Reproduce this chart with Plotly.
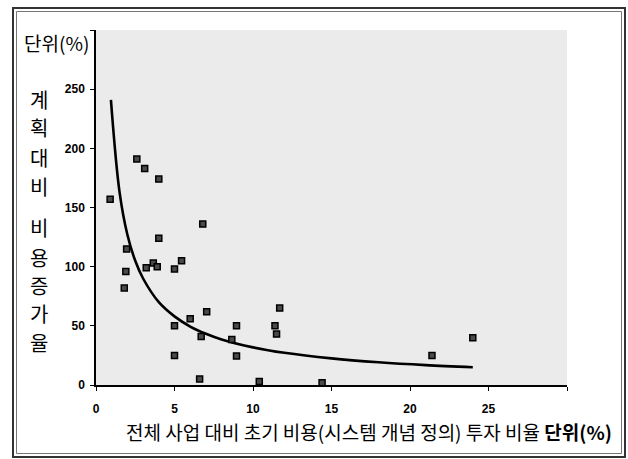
import plotly.graph_objects as go

# ---- data ----
point_x = [0.9, 2.6, 3.1, 4.0, 6.8, 1.95, 1.9, 1.8, 4.0, 3.2, 3.65, 3.9, 5.0, 5.45,
           5.0, 5.0, 6.0, 7.05, 6.7, 6.6, 8.65, 8.95, 8.95, 10.4, 11.7, 11.4, 11.5,
           14.4, 21.4, 24.0]
point_y = [157, 191, 183, 174, 136, 115, 96, 82, 124, 99, 103, 100, 98, 105,
           50, 25, 56, 62, 41, 5, 38.5, 50, 24.5, 3, 65, 50, 43,
           2, 25, 40]

curve_x = [0.95, 1.5, 2.0, 2.5, 3.0, 4.0, 5.0, 6.0, 7.0, 8.0, 10.0, 12.0, 15.0, 18.0, 21.0, 24.0]
curve_y = [241, 163, 127, 105, 90, 70, 58, 49.4, 43.3, 38.5, 31.8, 27.2, 22.5, 19.2, 16.8, 15]

x_ticks = [0, 5, 10, 15, 20, 25, 30]
x_tick_labels = ["0", "5", "10", "15", "20", "25", ""]
y_ticks = [0, 50, 100, 150, 200, 250, 300]
y_tick_labels = ["0", "50", "100", "150", "200", "250", ""]

y_title_chars = ["계", "획", "대", "비", "비", "용", "증", "가", "율"]
x_title = "전체 사업 대비 초기 비용(시스템 개념 정의) 투자 비율 <b>단위(%)</b>"
unit_label = "단위(%)"

# ---- layout geometry (pixels) ----
W, H = 628, 459
L, R, T, B = 96, 567, 30, 385
PW, PH = R - L, B - T


def px(xp):
    return (xp - L) / PW


def py(yp):
    return (B - yp) / PH


KFONT = "Noto Sans CJK KR, sans-serif"
NFONT = "Liberation Sans, Arial, sans-serif"

fig = go.Figure()
fig.add_trace(go.Scatter(
    x=curve_x, y=curve_y, mode="lines", line=dict(color="black", width=2.6, shape="spline"),
    hoverinfo="skip", showlegend=False))
fig.add_trace(go.Scatter(
    x=point_x, y=point_y, mode="markers",
    marker=dict(symbol="square", size=6, color="#4a4a4a", line=dict(color="black", width=1.5)),
    showlegend=False))


def ann(text, xp, yp, size, family=KFONT):
    return dict(text=text, x=px(xp), y=py(yp), xref="paper", yref="paper", showarrow=False,
                xanchor="center", yanchor="middle",
                font=dict(family=family, size=size, color="black"))


annotations = [ann(unit_label, 56, 43, 19), ann(x_title, 369, 431, 19)]
char_y = [100, 128, 157, 186, 228, 257, 285, 313, 342]
for ch, cy in zip(y_title_chars, char_y):
    annotations.append(ann(ch, 39, cy, 20))

shapes = [
    dict(type="rect", xref="paper", yref="paper", x0=px(13), x1=px(625), y0=py(457), y1=py(8),
         line=dict(color="#333333", width=2), layer="above"),
    dict(type="rect", xref="paper", yref="paper", x0=px(16.5), x1=px(621.5), y0=py(453.5), y1=py(11.5),
         line=dict(color="#777777", width=1), layer="above"),
]

fig.update_layout(
    width=W, height=H,
    margin=dict(l=L, r=W - R, t=T, b=H - B),
    paper_bgcolor="white", plot_bgcolor="#ebebeb",
    annotations=annotations, shapes=shapes,
    xaxis=dict(range=[0, 30], tickvals=x_ticks, ticktext=x_tick_labels, showgrid=False,
               zeroline=False, showline=True, linecolor="black", linewidth=1.5,
               ticks="outside", ticklen=4, tickcolor="black", ticklabelstandoff=8,
               tickfont=dict(family=NFONT, size=12, color="black", weight="bold")),
    yaxis=dict(range=[0, 300], tickvals=y_ticks, ticktext=y_tick_labels, showgrid=False,
               zeroline=False, showline=True, linecolor="black", linewidth=1.5,
               ticks="outside", ticklen=4, tickcolor="black", ticklabelstandoff=3,
               tickfont=dict(family=NFONT, size=12, color="black", weight="bold")),
)

fig.write_html("out.html", config={"displayModeBar": False},
               post_script="document.body.style.margin='0';document.body.style.overflow='hidden';")
